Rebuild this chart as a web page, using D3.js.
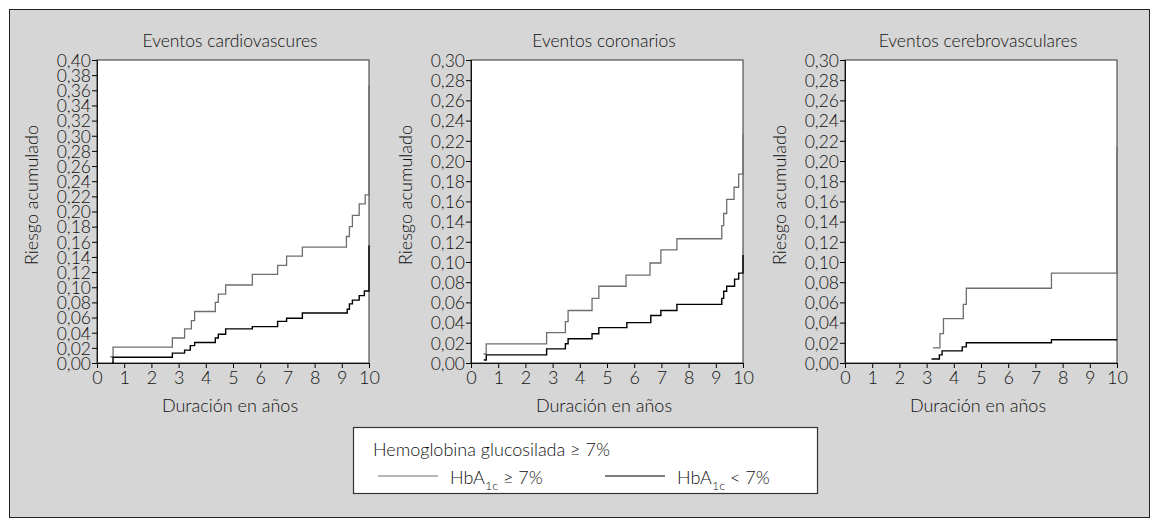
<!DOCTYPE html>
<html>
<head>
<meta charset="utf-8">
<script src="https://cdn.jsdelivr.net/npm/d3@7"></script>
<style>
  body { margin: 0; background: #fff; }
  svg text { font-family: Lato, "Open Sans", sans-serif; font-weight: 300; fill: #111; }
</style>
</head>
<body>
<svg id="chart" width="1159" height="522"></svg>
<script>
// panel titles and axis ranges
var titles = ["Eventos cardiovascures", "Eventos coronarios", "Eventos cerebrovasculares"];
var yMaxes = [0.40, 0.30, 0.30];
var xTicks = [0, 1, 2, 3, 4, 5, 6, 7, 8, 9, 10];

// step curves: [years, cumulative risk]
var hi1 = [[0.48,0.008],[0.59,0.021],[2.77,0.033],[3.22,0.045],[3.47,0.056],[3.59,0.068],[4.35,0.080],[4.46,0.091],[4.73,0.103],[5.71,0.117],[6.64,0.129],[6.97,0.141],[7.55,0.153],[9.17,0.167],[9.28,0.180],[9.39,0.195],[9.64,0.210],[9.86,0.222],[10,0.367]];
var lo1 = [[0.55,0],[0.59,0.0075],[2.77,0.013],[3.22,0.017],[3.43,0.023],[3.59,0.027],[4.35,0.033],[4.46,0.038],[4.73,0.045],[5.71,0.048],[6.64,0.055],[6.97,0.059],[7.55,0.066],[9.20,0.071],[9.28,0.078],[9.39,0.083],[9.64,0.089],[9.83,0.095],[10,0.155]];
var hi2 = [[0.45,0.009],[0.56,0.019],[2.78,0.030],[3.47,0.041],[3.57,0.052],[4.45,0.064],[4.70,0.076],[5.70,0.087],[6.58,0.099],[6.98,0.112],[7.57,0.123],[9.22,0.136],[9.29,0.148],[9.40,0.162],[9.67,0.174],[9.84,0.187],[10,0.226]];
var lo2 = [[0.47,0.003],[0.56,0.008],[2.78,0.014],[3.47,0.019],[3.57,0.024],[4.45,0.029],[4.70,0.035],[5.73,0.040],[6.61,0.047],[6.98,0.052],[7.57,0.058],[9.22,0.064],[9.29,0.071],[9.40,0.076],[9.69,0.083],[9.84,0.089],[10,0.107]];
var hi3 = [[3.23,0.015],[3.49,0.029],[3.62,0.044],[4.35,0.058],[4.46,0.074],[7.59,0.089],[10,0.214]];
var lo3 = [[3.18,0.004],[3.47,0.008],[3.57,0.012],[4.31,0.016],[4.46,0.020],[7.59,0.023],[10,0.023]];
var hiSeries = [hi1, hi2, hi3];
var loSeries = [lo1, lo2, lo3];

var legendTitle = "Hemoglobina glucosilada ≥ 7%";
var legendItems = [{sub: "1c", rest: " ≥ 7%", color: "#6e6e6e"}, {sub: "1c", rest: " < 7%", color: "#000"}];

var grayCol = "#6e6e6e";
var svg = d3.select("#chart");
var es = d3.formatLocale({decimal: ",", thousands: ".", grouping: [3], currency: ["", "€"]});
var fmt = es.format(".2f");

// background + outer frame
svg.append("rect").attr("x", 9.5).attr("y", 9.5).attr("width", 1140).attr("height", 508)
    .attr("fill", "#d6d6d6").attr("stroke", "#222").attr("stroke-width", 1);

var plotTop = 60, plotBottom = 363, pw = 272;
var lefts = [97, 471, 845];

function drawPanel(i) {
    var x0 = lefts[i];
    var x = d3.scaleLinear().domain([0, 10]).range([x0, x0 + pw]);
    var y = d3.scaleLinear().domain([0, yMaxes[i]]).range([plotBottom, plotTop]);
    var g = svg.append("g");

    g.append("rect").attr("x", x0).attr("y", plotTop).attr("width", pw).attr("height", plotBottom - plotTop)
        .attr("fill", "#fff").attr("stroke", "#333").attr("stroke-width", 1);

    var yt = d3.range(0, Math.round(yMaxes[i] / 0.02) + 1).map(function(k) { return k * 0.02; });
    var ya = g.append("g").attr("transform", "translate(" + x0 + ",0)")
        .call(d3.axisLeft(y).tickValues(yt).tickFormat(fmt).tickSize(5).tickPadding(1));
    ya.selectAll("text").style("font-size", "17.5px").attr("dy", "0.36em");
    ya.select(".domain").attr("stroke", "#111");

    var xa = g.append("g").attr("transform", "translate(0," + plotBottom + ")")
        .call(d3.axisBottom(x).tickValues(xTicks).tickFormat(d3.format("d")).tickSize(5).tickPadding(3));
    xa.selectAll("text").style("font-size", "18px");
    xa.select(".domain").attr("stroke", "#111");

    var line = d3.line().x(function(d) { return x(d[0]); }).y(function(d) { return y(d[1]); })
        .curve(d3.curveStepAfter);
    g.append("path").datum(hiSeries[i]).attr("d", line).attr("fill", "none")
        .attr("stroke", grayCol).attr("stroke-width", 1.3);
    g.append("path").datum(loSeries[i]).attr("d", line).attr("fill", "none")
        .attr("stroke", "#000").attr("stroke-width", 1.4);

    g.append("text").attr("x", x0 + pw / 2 - 3).attr("y", 47).attr("text-anchor", "middle")
        .style("font-size", "17.5px").text(titles[i]);
    g.append("text").attr("x", x0 + pw / 2 - 3).attr("y", 412).attr("text-anchor", "middle")
        .style("font-size", "18px").text("Duración en años");
    g.append("text").attr("transform", "translate(" + (x0 - 59) + ",195) rotate(-90)")
        .attr("text-anchor", "middle").style("font-size", "18px").text("Riesgo acumulado");
}
[0, 1, 2].forEach(drawPanel);

// legend
var lg = svg.append("g");
lg.append("rect").attr("x", 353.5).attr("y", 427.5).attr("width", 464).attr("height", 66)
    .attr("fill", "#fff").attr("stroke", "#333").attr("stroke-width", 1.2);
lg.append("text").attr("x", 373).attr("y", 456).style("font-size", "18px").text(legendTitle);
var itemX = [378, 605];
legendItems.forEach(function(it, k) {
    lg.append("line").attr("x1", itemX[k]).attr("x2", itemX[k] + 60).attr("y1", 476).attr("y2", 476)
        .attr("stroke", it.color).attr("stroke-width", 1.2);
    var t = lg.append("text").attr("x", itemX[k] + 72).attr("y", 484).style("font-size", "18px");
    t.append("tspan").text("HbA");
    t.append("tspan").attr("dy", 6).style("font-size", "12.5px").text(it.sub);
    t.append("tspan").attr("dy", -6).text(it.rest);
});
</script>
</body>
</html>
